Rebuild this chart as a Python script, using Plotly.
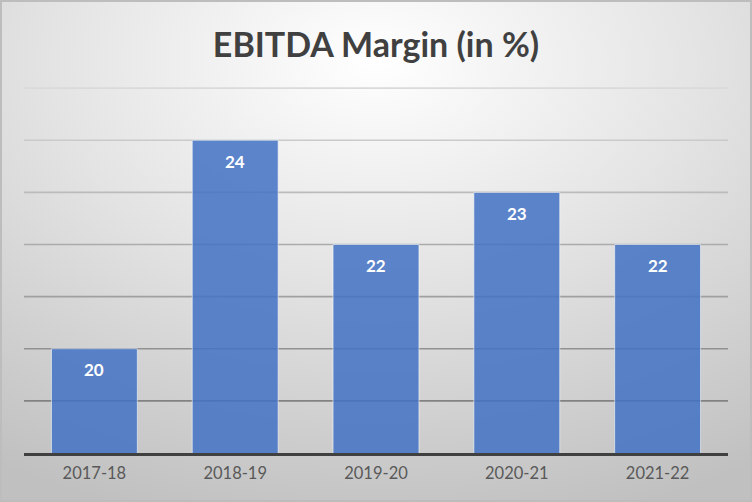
import base64
import plotly.graph_objects as go

categories = ["2017-18", "2018-19", "2019-20", "2020-21", "2021-22"]
ebitda_margin = [20, 24, 22, 23, 22]
title_text = "EBITDA Margin (in %)"
y_min, y_max, y_step = 18, 25, 1

W, H = 752, 502
ML, MR, MT, MB = 24, 24, 85, 49
PW, PH = W - ML - MR, H - MT - MB

svg = (
    f"<svg xmlns='http://www.w3.org/2000/svg' width='{W}' height='{H}' viewBox='0 0 {W} {H}' preserveAspectRatio='none'>"
    "<defs><radialGradient id='g' cx='50%' cy='12%' r='95%' fx='50%' fy='12%'>"
    "<stop offset='0' stop-color='#ffffff'/>"
    "<stop offset='0.45' stop-color='#e4e4e4'/>"
    "<stop offset='1' stop-color='#c0c0c0'/>"
    "</radialGradient></defs>"
    f"<rect x='0' y='0' width='{W}' height='{H}' fill='url(#g)'/>"
    f"<rect x='1' y='1' width='{W-2}' height='{H-2}' fill='none' stroke='#bdbdbd' stroke-width='2'/>"
    "</svg>"
)
bg_uri = "data:image/svg+xml;base64," + base64.b64encode(svg.encode()).decode()

fig = go.Figure()
fig.add_trace(go.Bar(
    x=categories,
    y=ebitda_margin,
    marker=dict(color="rgba(68,114,196,0.86)",
                line=dict(color="rgba(255,255,255,0.55)", width=1)),
    hoverinfo="skip",
))

for c, v in zip(categories, ebitda_margin):
    fig.add_annotation(x=c, y=v, text=f"<b>{v}</b>", showarrow=False,
                       yshift=-21, font=dict(family="Lato", size=17, color="white"))

# Gridlines: Excel-style, getting darker toward the bottom
grid_levels = list(range(y_min + y_step, y_max + 1, y_step))
grid_greys = ["#828282", "#919191", "#a0a0a0", "#ababab", "#bbbbbb", "#cacaca", "#dadada"]
for lvl, col in zip(grid_levels, grid_greys):
    fig.add_shape(type="line", xref="paper", yref="y", x0=0, x1=1, y0=lvl, y1=lvl,
                  line=dict(color=col, width=1.6), layer="below")

fig.add_layout_image(dict(
    source=bg_uri, xref="paper", yref="paper",
    x=-ML / PW, y=1 + MT / PH, sizex=W / PW, sizey=H / PH,
    xanchor="left", yanchor="top", sizing="stretch", layer="below",
))

fig.update_layout(
    width=W, height=H,
    margin=dict(l=ML, r=MR, t=MT, b=MB),
    paper_bgcolor="rgba(0,0,0,0)",
    plot_bgcolor="rgba(0,0,0,0)",
    showlegend=False,
    bargap=0.39,
    title=dict(text=f"<b>{title_text}</b>", x=0.5, xanchor="center",
               y=1 - 45 / H, yanchor="middle",
               font=dict(family="Lato", size=34, color="#404040")),
    font=dict(family="Lato", color="#595959"),
    xaxis=dict(showline=True, linecolor="#404040", linewidth=3,
               showgrid=False, ticks="", tickfont=dict(size=16.5, color="#595959"),
               ticklabelstandoff=3, fixedrange=True),
    yaxis=dict(range=[y_min, y_max + 0.06], showticklabels=False,
               showgrid=False, zeroline=False, showline=False, fixedrange=True),
)

fig.write_html("out.html", config={"displayModeBar": False},
               post_script="document.body.style.margin='0';document.body.style.overflow='hidden';")
